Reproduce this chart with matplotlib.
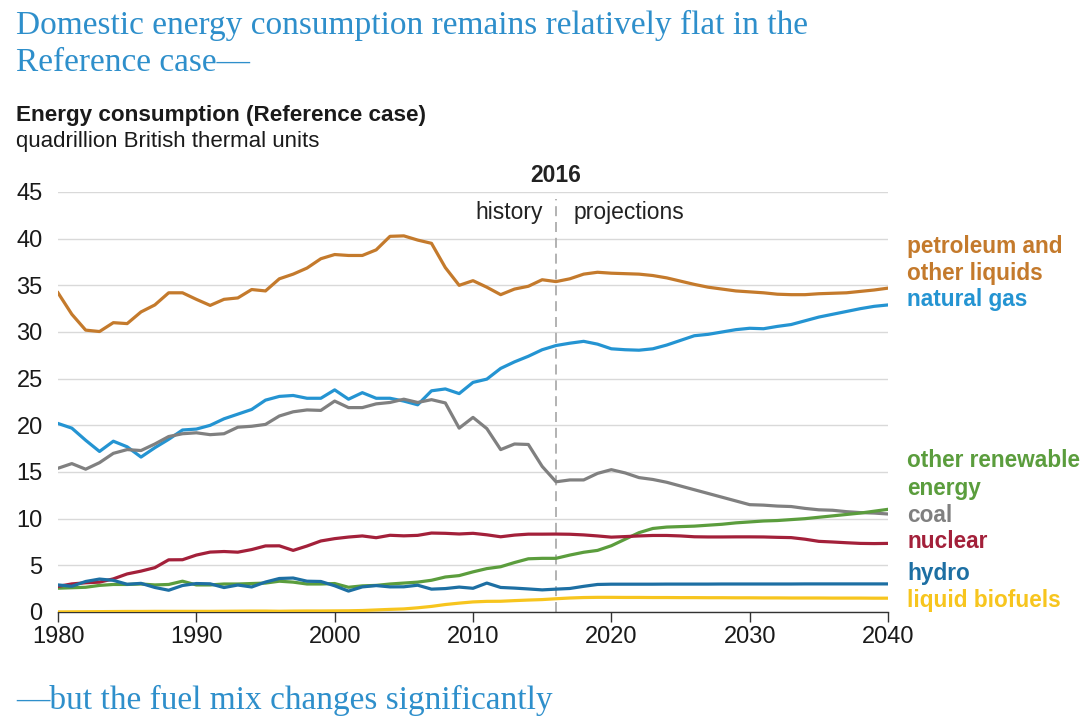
import matplotlib
matplotlib.use("Agg")
import matplotlib.pyplot as plt
import numpy as np

years = list(range(1980, 2041))

petroleum = [34.2, 31.9, 30.2, 30.05, 31.0, 30.9, 32.15, 32.9, 34.2, 34.2,
             33.5, 32.85, 33.5, 33.65, 34.55, 34.4, 35.7, 36.2, 36.85, 37.85,
             38.3, 38.2, 38.2, 38.8, 40.25, 40.3, 39.85, 39.5, 36.9, 35.0,
             35.5, 34.8, 34.0, 34.6, 34.9, 35.6, 35.4, 35.7, 36.2, 36.4,
             36.3, 36.25, 36.2, 36.05, 35.8, 35.45, 35.1, 34.8, 34.6, 34.4,
             34.3, 34.2, 34.05, 34.0, 34.0, 34.1, 34.15, 34.2, 34.35, 34.5,
             34.7]
natural_gas = [20.2, 19.7, 18.4, 17.2, 18.3, 17.7, 16.6, 17.6, 18.5, 19.5,
               19.6, 20.0, 20.7, 21.2, 21.7, 22.7, 23.1, 23.2, 22.9, 22.9,
               23.8, 22.8, 23.5, 22.9, 22.9, 22.6, 22.2, 23.7, 23.9, 23.4,
               24.6, 24.95, 26.1, 26.8, 27.4, 28.1, 28.55, 28.8, 29.0, 28.7,
               28.2, 28.1, 28.05, 28.2, 28.6, 29.1, 29.6, 29.75, 30.0, 30.25,
               30.4, 30.35, 30.6, 30.8, 31.2, 31.6, 31.9, 32.2, 32.5, 32.75,
               32.9]
coal = [15.4, 15.9, 15.3, 16.0, 17.0, 17.4, 17.3, 18.0, 18.8, 19.1,
        19.2, 19.0, 19.1, 19.8, 19.9, 20.1, 21.0, 21.45, 21.65, 21.6,
        22.6, 21.9, 21.9, 22.3, 22.45, 22.8, 22.45, 22.75, 22.4, 19.7,
        20.85, 19.65, 17.4, 18.0, 17.95, 15.6, 13.95, 14.15, 14.15, 14.85,
        15.25, 14.9, 14.4, 14.2, 13.9, 13.5, 13.1, 12.7, 12.3, 11.9,
        11.5, 11.45, 11.35, 11.3, 11.1, 10.95, 10.9, 10.75, 10.65, 10.6,
        10.5]
nuclear = [2.74, 3.01, 3.13, 3.20, 3.55, 4.08, 4.38, 4.75, 5.59, 5.60,
           6.10, 6.42, 6.48, 6.41, 6.69, 7.08, 7.09, 6.60, 7.07, 7.61,
           7.86, 8.03, 8.15, 7.96, 8.22, 8.16, 8.21, 8.46, 8.43, 8.36,
           8.43, 8.27, 8.06, 8.24, 8.34, 8.34, 8.35, 8.33, 8.26, 8.15,
           8.02, 8.08, 8.15, 8.2, 8.2, 8.15, 8.06, 8.04, 8.04, 8.05,
           8.05, 8.04, 8.0, 7.97, 7.8, 7.57, 7.5, 7.42, 7.35, 7.33,
           7.35]
hydro = [2.90, 2.76, 3.27, 3.53, 3.39, 2.97, 3.07, 2.63, 2.33, 2.84,
         3.05, 3.02, 2.62, 2.89, 2.68, 3.21, 3.59, 3.64, 3.30, 3.27,
         2.81, 2.24, 2.69, 2.83, 2.69, 2.70, 2.87, 2.45, 2.51, 2.67,
         2.54, 3.10, 2.63, 2.56, 2.47, 2.37, 2.45, 2.52, 2.75, 2.95,
         2.98, 2.98, 2.98, 2.98, 2.99, 2.99, 2.99, 2.99, 3.0, 3.0,
         3.0, 3.0, 3.0, 3.0, 3.01, 3.01, 3.01, 3.01, 3.01, 3.01,
         3.01]
other_renewable = [2.55, 2.6, 2.65, 2.85, 2.95, 2.95, 3.0, 2.9, 2.95, 3.3,
                   2.9, 2.9, 3.0, 3.0, 3.05, 3.1, 3.3, 3.2, 3.0, 3.0,
                   3.05, 2.65, 2.8, 2.85, 3.0, 3.1, 3.2, 3.4, 3.75, 3.9,
                   4.3, 4.65, 4.85, 5.3, 5.7, 5.75, 5.75, 6.1, 6.4, 6.6,
                   7.1, 7.8, 8.5, 8.95, 9.1, 9.15, 9.2, 9.3, 9.4, 9.55,
                   9.65, 9.75, 9.8, 9.9, 10.0, 10.15, 10.3, 10.45, 10.6, 10.8,
                   11.0]
liquid_biofuels = [0.01, 0.02, 0.03, 0.04, 0.05, 0.06, 0.06, 0.07, 0.07, 0.07,
                   0.07, 0.07, 0.08, 0.09, 0.10, 0.10, 0.08, 0.10, 0.11, 0.11,
                   0.12, 0.13, 0.16, 0.22, 0.28, 0.33, 0.45, 0.60, 0.80, 0.95,
                   1.08, 1.14, 1.15, 1.22, 1.28, 1.33, 1.42, 1.50, 1.55, 1.57,
                   1.57, 1.56, 1.56, 1.55, 1.55, 1.54, 1.54, 1.53, 1.53, 1.52,
                   1.52, 1.51, 1.51, 1.50, 1.50, 1.50, 1.49, 1.49, 1.49, 1.48,
                   1.48]

x_ticks = [1980, 1990, 2000, 2010, 2020, 2030, 2040]
y_ticks = [0, 5, 10, 15, 20, 25, 30, 35, 40, 45]
divider_year = 2016

series = [
    (petroleum, "#c47a2c"),
    (natural_gas, "#2494d2"),
    (coal, "#808080"),
    (other_renewable, "#5b9d3d"),
    (nuclear, "#a3203a"),
    (hydro, "#1d6fa3"),
    (liquid_biofuels, "#f7c51e"),
]

label_lines = [
    ("petroleum and", "#c47a2c", 39.2),
    ("other liquids", "#c47a2c", 36.3),
    ("natural gas", "#2494d2", 33.5),
    ("other renewable", "#5b9d3d", 16.2),
    ("energy", "#5b9d3d", 13.2),
    ("coal", "#808080", 10.3),
    ("nuclear", "#a3203a", 7.5),
    ("hydro", "#1d6fa3", 4.1),
    ("liquid biofuels", "#f7c51e", 1.2),
]

sans = ["Liberation Sans", "DejaVu Sans"]
serif = ["Liberation Serif", "DejaVu Serif"]
title_color = "#2e8fcb"

fig = plt.figure(figsize=(10.88, 7.25), dpi=100)
ax = fig.add_axes([58 / 1088, 113 / 725, 830 / 1088, 420 / 725])

for vals, col in series:
    ax.plot(years, vals, color=col, lw=2.3, solid_joinstyle="round", zorder=3)

ax.set_xlim(1980, 2040)
ax.set_ylim(0, 45)
ax.set_yticks(y_ticks)
ax.set_xticks(x_ticks)
ax.grid(axis="y", color="#d9d9d9", lw=1.0, zorder=0)
for s in ["left", "right", "top"]:
    ax.spines[s].set_visible(False)
ax.spines["bottom"].set_color("#333333")
ax.spines["bottom"].set_linewidth(1.0)
ax.tick_params(axis="y", length=0, labelsize=17, pad=11)
ax.tick_params(axis="x", length=7, width=1.0, color="#333333", labelsize=17, pad=3,
               direction="out")
for lab in ax.get_xticklabels() + ax.get_yticklabels():
    lab.set_family(sans)
    lab.set_color("#1a1a1a")

ax.plot([divider_year, divider_year], [0, 44.2], color="#a6a6a6", lw=1.2,
        ls=(0, (6, 3.5)), zorder=2, clip_on=False)
ax.text(divider_year, 46.8, "2016", ha="center", va="center", fontsize=16.5,
        fontweight="bold", family=sans, color="#222222")
ax.text(divider_year - 0.95, 42.8, "history", ha="right", va="center", fontsize=16.5,
        family=sans, color="#222222")
ax.text(divider_year + 1.3, 42.8, "projections", ha="left", va="center", fontsize=16.5,
        family=sans, color="#222222")

for txt, col, yv in label_lines:
    ax.text(2041.4, yv, txt, ha="left", va="center", fontsize=16.3, fontweight="bold",
            family=sans, color=col, clip_on=False)

fig.text(16 / 1088, 1 - 25 / 725, "Domestic energy consumption remains relatively flat in the",
         ha="left", va="center", fontsize=24, family=serif, color=title_color)
fig.text(16 / 1088, 1 - 63 / 725, "Reference case\u2014",
         ha="left", va="center", fontsize=24, family=serif, color=title_color)
fig.text(16 / 1088, 1 - 115 / 725, "Energy consumption (Reference case)",
         ha="left", va="center", fontsize=16.2, fontweight="bold", family=sans, color="#1a1a1a")
fig.text(16 / 1088, 1 - 141 / 725, "quadrillion British thermal units",
         ha="left", va="center", fontsize=16, family=sans, color="#1a1a1a")
fig.text(16 / 1088, 1 - 700 / 725, "\u2014but the fuel mix changes significantly",
         ha="left", va="center", fontsize=24, family=serif, color=title_color)

fig.savefig("out.png", dpi=100)
